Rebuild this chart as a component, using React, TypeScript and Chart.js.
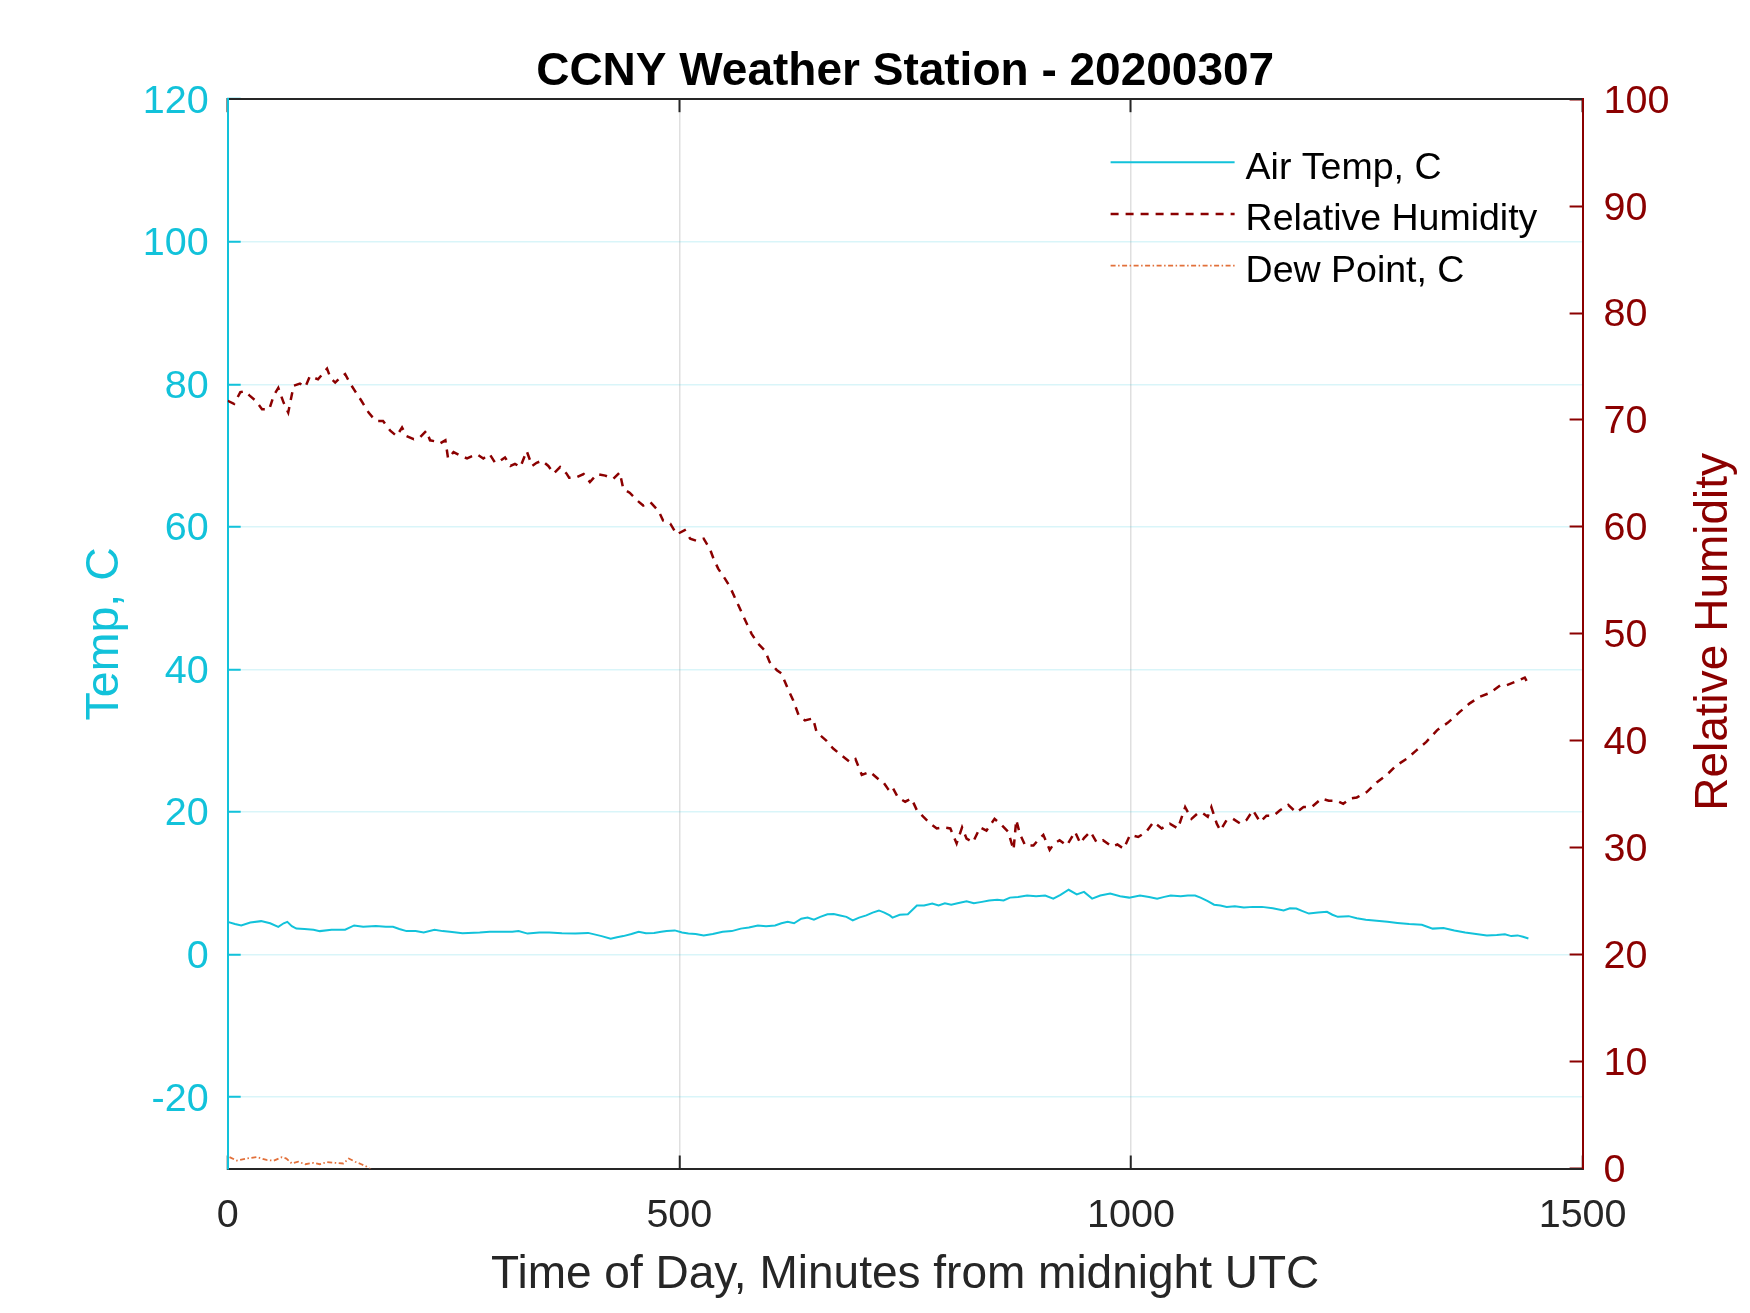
import React, { useEffect, useRef } from 'react';
import { Chart, registerables } from 'chart.js';

Chart.register(...registerables);

// ---------- data ----------
const titleText = 'CCNY Weather Station - 20200307';
const xAxisLabel = 'Time of Day, Minutes from midnight UTC';
const leftAxisLabel = 'Temp, C';
const rightAxisLabel = 'Relative Humidity';
const seriesLabels = ['Air Temp, C', 'Relative Humidity', 'Dew Point, C'];

const xTicks = [0, 500, 1000, 1500];
const tempTicks = [-20, 0, 20, 40, 60, 80, 100, 120];
const rhTicks = [0, 10, 20, 30, 40, 50, 60, 70, 80, 90, 100];

const tempMinutes = [
  0, 8, 15, 25, 37, 47, 56, 62, 66, 71, 76, 85, 95, 102, 115, 130, 140, 150, 164, 175,
  183, 190, 198, 208, 217, 229, 238, 246, 260, 279, 290, 303, 315, 322, 332, 345, 356, 370, 385, 399,
  414, 424, 431, 438, 447, 455, 463, 472, 480, 486, 495, 503, 510, 518, 527, 537, 548, 558, 568, 577,
  587, 596, 606, 613, 620, 627, 635, 642, 649, 656, 664, 671, 678, 685, 692, 699, 707, 714, 721, 727,
  733, 736, 744, 753, 763, 771, 780, 787, 794, 801, 808, 818, 826, 835, 843, 852, 859, 866, 875, 885,
  895, 905, 914, 922, 931, 940, 948, 957, 966, 977, 988, 998, 1010, 1020, 1029, 1037, 1044, 1055, 1063, 1071,
  1077, 1085, 1092, 1099, 1106, 1115, 1125, 1135, 1145, 1157, 1169, 1176, 1183, 1190, 1197, 1207, 1217, 1223, 1229, 1241,
  1250, 1260, 1272, 1284, 1295, 1308, 1322, 1334, 1346, 1358, 1370, 1382, 1394, 1405, 1414, 1421, 1428, 1434, 1440,
];
const tempValues = [
  4.6, 4.3, 4.1, 4.5, 4.7, 4.4, 3.9, 4.4, 4.6, 4.0, 3.65, 3.6, 3.5, 3.3, 3.5, 3.5, 4.1, 3.9, 4.0, 3.9,
  3.9, 3.6, 3.3, 3.3, 3.1, 3.5, 3.3, 3.2, 3.0, 3.1, 3.2, 3.2, 3.2, 3.3, 2.95, 3.1, 3.1, 3.0, 2.95, 3.05,
  2.6, 2.25, 2.45, 2.6, 2.9, 3.2, 3.0, 3.05, 3.2, 3.3, 3.4, 3.1, 2.95, 2.9, 2.7, 2.9, 3.2, 3.3, 3.65, 3.8,
  4.1, 4.0, 4.1, 4.4, 4.6, 4.4, 5.05, 5.2, 4.9, 5.3, 5.65, 5.7, 5.5, 5.3, 4.8, 5.2, 5.5, 5.9, 6.2, 5.9,
  5.5, 5.2, 5.6, 5.66, 6.9, 6.9, 7.16, 6.9, 7.2, 7.0, 7.2, 7.5, 7.2, 7.4, 7.6, 7.7, 7.6, 8.0, 8.1, 8.3,
  8.2, 8.3, 7.86, 8.4, 9.1, 8.46, 8.8, 7.86, 8.3, 8.56, 8.2, 8.0, 8.3, 8.1, 7.86, 8.1, 8.3, 8.2, 8.3, 8.3,
  8.0, 7.5, 7.0, 6.9, 6.7, 6.8, 6.6, 6.7, 6.7, 6.5, 6.2, 6.5, 6.46, 6.1, 5.76, 5.9, 6.0, 5.6, 5.3, 5.4,
  5.1, 4.9, 4.75, 4.6, 4.45, 4.3, 4.2, 3.65, 3.75, 3.4, 3.1, 2.9, 2.68, 2.75, 2.86, 2.6, 2.7, 2.5, 2.26,
];

const rhMinutes = [
  0, 7, 14, 19, 24, 31, 38, 46, 51, 56, 62, 67, 73, 80, 86, 91, 100, 105, 110, 114,
  119, 125, 130, 135, 141, 148, 156, 160, 165, 172, 180, 187, 193, 198, 206, 213, 220, 224, 230, 235,
  241, 244, 250, 257, 265, 270, 276, 283, 290, 296, 302, 307, 313, 318, 324, 331, 337, 342, 348, 355,
  361, 368, 375, 378, 385, 394, 401, 409, 418, 427, 434, 438, 445, 453, 460, 468, 477, 482, 490, 497,
  506, 512, 519, 527, 534, 538, 543, 551, 556, 562, 569, 575, 580, 587, 595, 600, 608, 613, 621, 626,
  632, 639, 648, 652, 663, 670, 680, 689, 695, 702, 711, 722, 726, 731, 735, 742, 750, 757, 763, 770,
  778, 785, 792, 800, 807, 813, 818, 825, 833, 840, 849, 857, 864, 870, 873, 877, 883, 892, 897, 903,
  910, 915, 921, 929, 938, 944, 948, 955, 962, 969, 979, 985, 992, 999, 1008, 1017, 1025, 1034, 1043, 1052,
  1060, 1067, 1075, 1080, 1085, 1089, 1095, 1099, 1106, 1113, 1121, 1128, 1135, 1143, 1150, 1158, 1165, 1174, 1183, 1191,
  1200, 1211, 1219, 1228, 1235, 1243, 1250, 1261, 1272, 1283, 1294, 1305, 1316, 1327, 1339, 1351, 1364, 1375, 1386, 1398,
  1409, 1416, 1425, 1436, 1440,
];
const rhValues = [
  71.8, 71.5, 72.6, 72.7, 72.3, 71.8, 71.0, 71.0, 72.3, 73.0, 71.6, 70.7, 73.2, 73.4, 73.1, 74.1, 73.8, 74.3, 74.8, 73.9,
  73.5, 74.0, 74.3, 73.5, 72.7, 71.8, 70.7, 70.3, 69.9, 69.9, 69.0, 68.5, 69.3, 68.5, 68.2, 68.4, 69.0, 68.1, 68.0, 67.8,
  68.1, 66.4, 67.0, 66.7, 66.4, 66.6, 66.8, 66.4, 66.8, 66.0, 66.2, 66.5, 65.7, 65.9, 65.6, 67.1, 65.7, 66.0, 66.2, 65.7,
  65.0, 65.6, 65.0, 64.6, 64.6, 64.95, 64.2, 64.95, 64.8, 64.5, 65.1, 63.55, 63.2, 62.5, 62.0, 62.3, 61.5, 60.6, 60.3, 59.3,
  59.7, 58.9, 58.7, 58.9, 57.9, 57.0, 56.1, 55.1, 54.4, 53.3, 52.0, 50.9, 50.0, 49.1, 48.4, 47.35, 46.6, 46.3, 44.7, 43.8,
  42.4, 41.9, 42.1, 40.8, 40.0, 39.3, 38.6, 38.0, 38.3, 36.8, 37.1, 36.3, 36.1, 35.5, 35.8, 34.7, 34.3, 34.6, 33.5, 32.9,
  32.25, 31.8, 31.9, 31.8, 30.4, 31.9, 30.85, 30.5, 31.9, 31.6, 32.7, 32.1, 31.5, 29.8, 32.6, 31.3, 30.2, 30.2, 30.7, 31.2,
  29.8, 30.4, 30.7, 30.2, 31.5, 30.4, 30.9, 31.5, 30.5, 30.7, 30.1, 30.3, 29.9, 31.2, 31.0, 31.5, 32.4, 31.8, 32.25, 31.8,
  33.8, 32.7, 33.3, 33.2, 32.9, 33.8, 32.25, 31.6, 32.6, 32.7, 32.25, 32.6, 33.5, 32.4, 33.0, 33.0, 33.5, 34.0, 33.3, 33.8,
  33.8, 34.6, 34.4, 34.4, 34.1, 34.6, 34.7, 35.2, 36.1, 36.8, 37.7, 38.3, 39.1, 39.9, 41.0, 41.7, 42.7, 43.5, 44.1, 44.5,
  45.2, 45.2, 45.5, 45.9, 45.3,
];

const dewMinutes = [
  2, 10, 21, 32, 43, 51, 60, 65, 71, 78, 86, 95, 102, 110, 119, 128, 134, 141, 148, 154, 159, 165,
];
const dewValues = [
  -28.4, -28.9, -28.6, -28.4, -28.8, -28.9, -28.4, -28.6, -29.3, -29.05, -29.4, -29.2, -29.4, -29.1, -29.2, -29.3, -28.6, -29.05, -29.4, -29.75, -30.2, -30.8,
];

// ---------- styles ----------
const FONT = '"Liberation Sans", Arial, Helvetica, sans-serif';
const CYAN = '#12c2da';
const CYAN_GRID = 'rgba(18,194,218,0.16)';
const DARKRED = '#8b0000';
const ORANGE = '#e2703a';
const DARK = '#262626';
const GRAY_GRID = 'rgba(38,38,38,0.15)';

const W = 1750;
const H = 1313;

function pairs(xs: number[], ys: number[]) {
  return xs.map((x, i) => ({ x, y: ys[i] }));
}

const legendPlugin = {
  id: 'matlabLegend',
  afterDatasetsDraw(chart: any) {
    const { ctx, chartArea } = chart;
    const x0 = chartArea.right - 472;
    const x1 = chartArea.right - 348;
    const tx = chartArea.right - 337;
    const y0 = chartArea.top + 63;
    const dy = 51.7;
    ctx.save();
    chart.data.datasets.forEach((ds: any, i: number) => {
      const y = y0 + i * dy;
      ctx.beginPath();
      ctx.strokeStyle = ds.borderColor;
      ctx.lineWidth = ds.borderWidth;
      ctx.setLineDash(ds.borderDash || []);
      ctx.moveTo(x0, y);
      ctx.lineTo(x1, y);
      ctx.stroke();
      ctx.setLineDash([]);
      ctx.fillStyle = '#000000';
      ctx.font = `37.5px ${FONT}`;
      ctx.textAlign = 'left';
      ctx.textBaseline = 'middle';
      ctx.fillText(ds.label, tx, y + 6);
    });
    ctx.restore();
  },
};

const rightTitlePlugin = {
  id: 'rightTitle',
  afterDraw(chart: any) {
    const { ctx, chartArea } = chart;
    ctx.save();
    ctx.translate(chartArea.right + 132, (chartArea.top + chartArea.bottom) / 2 - 2);
    ctx.rotate(-Math.PI / 2);
    ctx.fillStyle = DARKRED;
    ctx.font = `46px ${FONT}`;
    ctx.textAlign = 'center';
    ctx.textBaseline = 'middle';
    ctx.fillText(rightAxisLabel, 0, 0);
    ctx.restore();
  },
};

export default function App() {
  const ref = useRef<HTMLCanvasElement | null>(null);

  useEffect(() => {
    if (!ref.current) return;
    Chart.defaults.font.family = FONT;
    const chart = new Chart(ref.current, {
      type: 'line',
      data: {
        datasets: [
          {
            label: seriesLabels[0],
            data: pairs(tempMinutes, tempValues),
            yAxisID: 'y',
            xAxisID: 'x',
            borderColor: CYAN,
            borderWidth: 2,
            pointRadius: 0,
            tension: 0,
            fill: false,
          },
          {
            label: seriesLabels[1],
            data: pairs(rhMinutes, rhValues),
            yAxisID: 'y2',
            xAxisID: 'x',
            borderColor: DARKRED,
            borderWidth: 2.5,
            borderDash: [8, 7],
            pointRadius: 0,
            tension: 0,
            fill: false,
          },
          {
            label: seriesLabels[2],
            data: pairs(dewMinutes, dewValues),
            yAxisID: 'y',
            xAxisID: 'x',
            borderColor: ORANGE,
            borderWidth: 1.8,
            borderDash: [5, 2.5, 1.5, 2.5],
            pointRadius: 0,
            tension: 0,
            fill: false,
          },
        ],
      },
      options: {
        animation: false,
        responsive: false,
        devicePixelRatio: 1,
        layout: { padding: 0 },
        events: [],
        plugins: {
          legend: { display: false },
          tooltip: { enabled: false },
          title: {
            display: true,
            text: titleText,
            fullSize: false,
            color: '#000000',
            font: { size: 46, weight: 'bold', family: FONT, lineHeight: 1.0 },
            padding: { top: 49.5, bottom: 0 },
          },
        },
        scales: {
          x: {
            type: 'linear',
            position: 'bottom',
            min: 0,
            max: 1500,
            afterBuildTicks: (s: any) => {
              s.ticks = xTicks.map((v) => ({ value: v }));
            },
            afterFit: (s: any) => {
              s.height = 144.5;
            },
            ticks: {
              color: DARK,
              font: { size: 39.5, family: FONT },
              padding: 36.5,
              maxRotation: 0,
              autoSkip: false,
              callback: (v: any) => String(v),
            },
            grid: {
              color: GRAY_GRID,
              lineWidth: 1.5,
              tickColor: DARK,
              tickLength: -13,
              tickWidth: 2,
            },
            border: { color: DARK, width: 2 },
            title: {
              display: true,
              text: xAxisLabel,
              color: DARK,
              font: { size: 46, family: FONT, lineHeight: 1.2 },
              padding: { top: 0, bottom: 10.5 },
            },
          },
          xTop: {
            type: 'linear',
            position: 'top',
            min: 0,
            max: 1500,
            afterBuildTicks: (s: any) => {
              s.ticks = xTicks.map((v) => ({ value: v }));
            },
            afterFit: (s: any) => {
              s.height = 3.7;
            },
            ticks: { display: false },
            grid: {
              drawOnChartArea: false,
              tickColor: DARK,
              tickLength: -13,
              tickWidth: 2,
            },
            border: { color: DARK, width: 2 },
          },
          y: {
            type: 'linear',
            position: 'left',
            min: -30,
            max: 120,
            afterBuildTicks: (s: any) => {
              s.ticks = tempTicks.map((v) => ({ value: v }));
            },
            afterFit: (s: any) => {
              s.width = 227.7;
            },
            ticks: {
              color: CYAN,
              font: { size: 39.5, family: FONT },
              padding: 32,
              labelOffset: 2.5,
              autoSkip: false,
              callback: (v: any) => String(v),
            },
            grid: {
              color: CYAN_GRID,
              lineWidth: 1.5,
              tickColor: CYAN,
              tickLength: -13,
              tickWidth: 2,
            },
            border: { color: CYAN, width: 2 },
            title: {
              display: true,
              text: leftAxisLabel,
              color: CYAN,
              font: { size: 46.5, family: FONT, lineHeight: 1.2 },
              padding: { top: 77.5, bottom: 0 },
            },
          },
          y2: {
            type: 'linear',
            position: 'right',
            min: 0,
            max: 100,
            afterBuildTicks: (s: any) => {
              s.ticks = rhTicks.map((v) => ({ value: v }));
            },
            afterFit: (s: any) => {
              s.width = 167.4;
            },
            ticks: {
              color: DARKRED,
              font: { size: 39.5, family: FONT },
              padding: 34,
              labelOffset: 2.5,
              autoSkip: false,
              callback: (v: any) => String(v),
            },
            grid: {
              drawOnChartArea: false,
              tickColor: DARKRED,
              tickLength: -13,
              tickWidth: 2,
            },
            border: { color: DARKRED, width: 2 },
          },
        },
      } as any,
      plugins: [legendPlugin, rightTitlePlugin],
    });
    return () => {
      chart.destroy();
    };
  }, []);

  return (
    <div style={{ position: 'absolute', left: 0, top: 0, width: W, height: H, background: '#ffffff' }}>
      <canvas ref={ref} width={W} height={H} style={{ width: W, height: H, display: 'block' }} />
    </div>
  );
}
